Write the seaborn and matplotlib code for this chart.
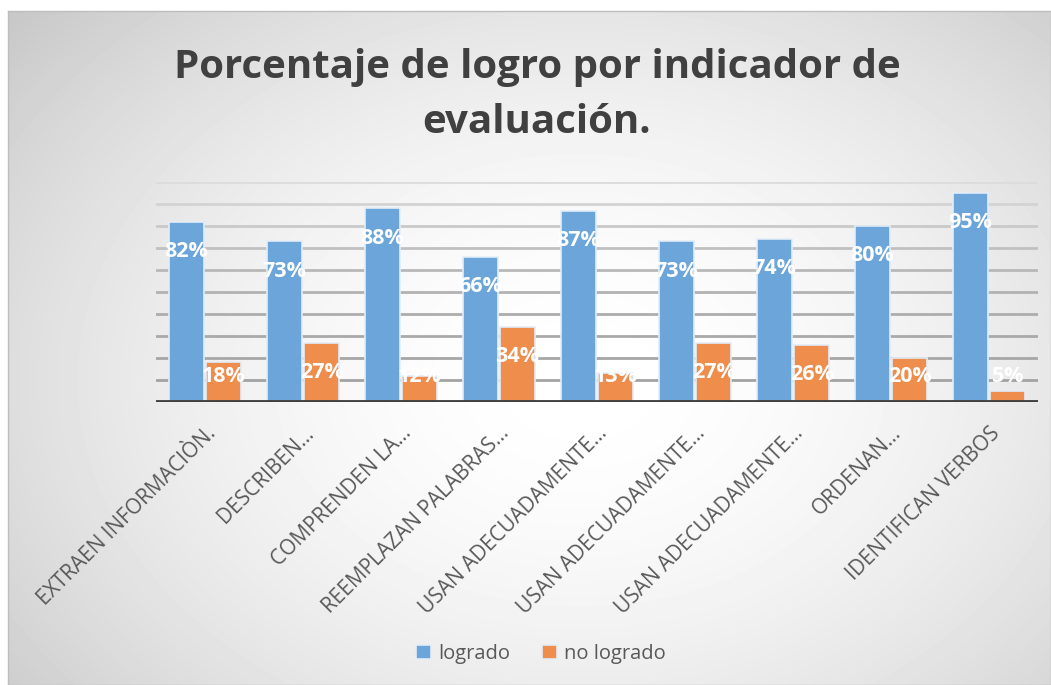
import numpy as np
import pandas as pd
import matplotlib
matplotlib.use("Agg")
import matplotlib.pyplot as plt
import seaborn as sns

# datos del grafico
indicadores = ["EXTRAEN INFORMACIÒN.", "DESCRIBEN...", "COMPRENDEN LA...",
               "REEMPLAZAN PALABRAS...", "USAN ADECUADAMENTE...",
               "USAN ADECUADAMENTE...", "USAN ADECUADAMENTE...",
               "ORDENAN...", "IDENTIFICAN VERBOS"]
logrado = [82, 73, 88, 66, 87, 73, 74, 80, 95]
no_logrado = [18, 27, 12, 34, 13, 27, 26, 20, 5]
series = ["logrado", "no logrado"]
colores = ["#6ba5da", "#ee8d4c"]

sns.set_theme(style="white")
plt.rcParams["font.family"] = ["Open Sans", "DejaVu Sans"]

W, H = 1051, 685
fig = plt.figure(figsize=(W / 100, H / 100), dpi=100)
fig.patch.set_facecolor("white")

# fondo con degradado radial
bg = fig.add_axes([8 / W, 0, 1 - 8 / W, (H - 11) / H])
yy, xx = np.mgrid[11:H, 8:W]
r = np.sqrt(((xx - 580) / 540) ** 2 + ((yy - 380) / 400) ** 2)
val = 1 - 0.12 * r ** 1.8
val = np.clip(val, 0.78, 1)
bg.imshow(val, cmap="gray", vmin=0, vmax=1, aspect="auto", interpolation="bilinear")
bg.set_xticks([])
bg.set_yticks([])
for s in bg.spines.values():
    s.set_color("#bdbdbd")
    s.set_linewidth(1)
bg.set_zorder(0)

# grafico principal
ax = fig.add_axes([156 / W, (H - 402) / H, (1038 - 156) / W, (402 - 182) / H])
ax.set_zorder(1)
ax.patch.set_alpha(0)

df = pd.DataFrame({
    "indicador": list(range(len(indicadores))) * 2,
    "serie": [series[0]] * len(logrado) + [series[1]] * len(no_logrado),
    "valor": logrado + no_logrado,
})
sns.barplot(data=df, x="indicador", y="valor", hue="serie", palette=colores,
            width=0.76, gap=0.05, edgecolor="#e3edf7", linewidth=1.2,
            saturation=1, ax=ax, zorder=3)

ax.set_ylim(0, 100)
ax.set_xlim(-0.5, len(indicadores) - 0.5)
ax.set_yticks(np.arange(10, 101, 10))
ax.set_yticklabels([])
ax.tick_params(axis="both", length=0)
ax.set_xlabel("")
ax.set_ylabel("")

# lineas de cuadricula (mas claras arriba)
grises = ["#a3a3a3", "#a6a6a6", "#a9a9a9", "#adadad", "#b2b2b2",
          "#b8b8b8", "#c0c0c0", "#c9c9c9", "#d3d3d3", "#dcdcdc"]
for yv, c in zip(np.arange(10, 101, 10), grises):
    ax.axhline(yv, color=c, lw=2, zorder=1)
ax.axhline(0, color="#404040", lw=3.5, zorder=4)
for s in ax.spines.values():
    s.set_visible(False)

ax.set_xticks(range(len(indicadores)))
ax.set_xticklabels(indicadores, rotation=45, ha="right", rotation_mode="anchor",
                   fontsize=15, color="#595959")
ax.tick_params(axis="x", pad=15)

# etiquetas de datos
for cont in ax.containers:
    for bar in cont:
        v = bar.get_height()
        yl = max(v - 13.5, 11.4)
        ax.text(bar.get_x() + bar.get_width() / 2, yl, f"{v:.0f}%",
                ha="center", va="center", color="white", fontsize=15.5,
                fontweight="bold", zorder=5)

# leyenda
handles, labels = ax.get_legend_handles_labels()
ax.legend(handles, labels, loc="center", bbox_to_anchor=(541 / W, (H - 654) / H),
          bbox_transform=fig.transFigure, ncol=2, frameon=False, fontsize=14.5,
          handlelength=0.75, handleheight=0.75, handletextpad=0.35,
          columnspacing=1.6, labelcolor="#595959")

# titulo
fig.text(537 / W, (H - 95) / H, "Porcentaje de logro por indicador de\nevaluación.",
         ha="center", va="center", fontsize=29, fontweight="bold",
         color="#404040", linespacing=1.55, zorder=5)

fig.savefig("out.png", dpi=100)
